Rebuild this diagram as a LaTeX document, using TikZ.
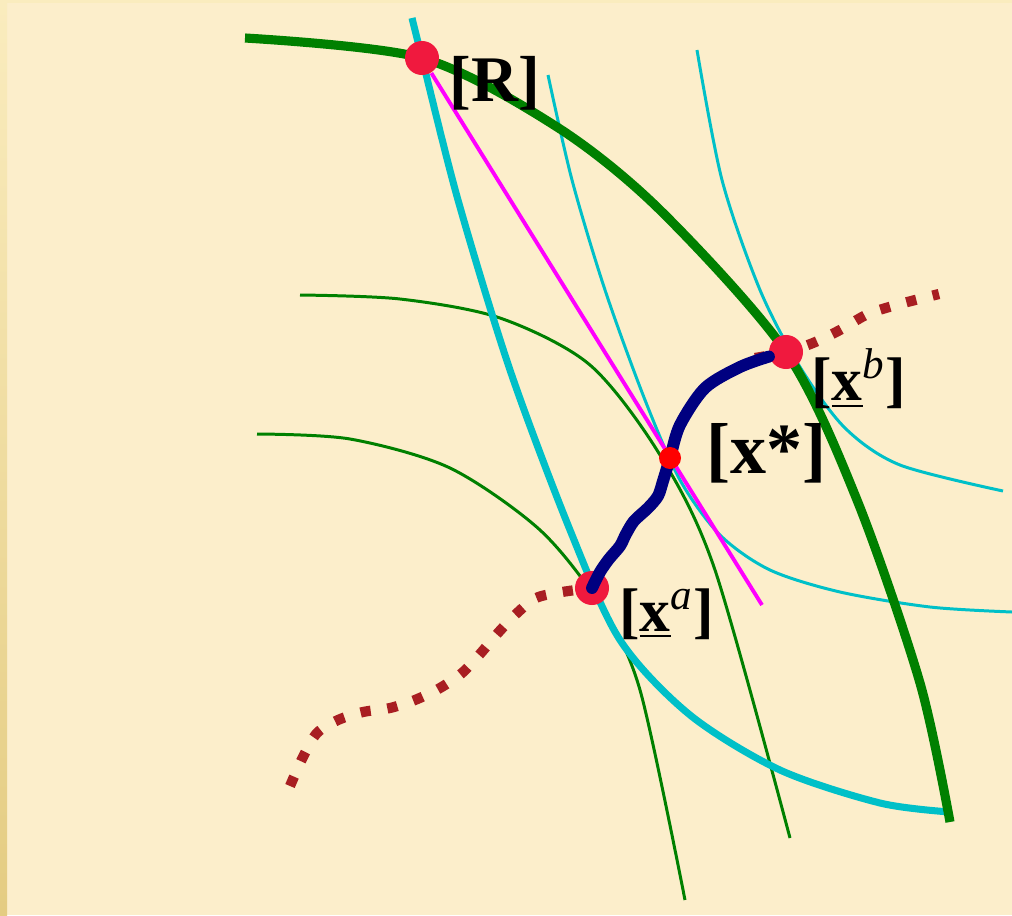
\documentclass[tikz,border=0pt]{standalone}
\usepackage{fontspec}
\setmainfont{Liberation Serif}
\usetikzlibrary{positioning}
\definecolor{paper}{RGB}{252,238,203}
\definecolor{stripLight}{RGB}{250,236,190}
\definecolor{stripDark}{RGB}{228,204,130}
\definecolor{leafgreen}{RGB}{0,128,0}
\definecolor{aqua}{RGB}{0,192,200}
\definecolor{rust}{RGB}{168,30,34}
\definecolor{dotred}{RGB}{240,25,62}
\definecolor{deepnavy}{RGB}{0,0,128}
\definecolor{pinkline}{RGB}{255,0,255}
\tikzset{
  thinGreen/.style={draw=leafgreen,line width=0.85pt},
  thinAqua/.style={draw=aqua,line width=0.85pt},
  bigDot/.style={circle,fill=dotred,inner sep=0pt,minimum size=0.34cm},
  lbl/.style={inner sep=0pt,font=\bfseries\fontsize{17.5}{20}\selectfont}
}
\begin{document}
\begin{tikzpicture}[x=0.01cm,y=-0.01cm]
    \useasboundingbox (0,0) rectangle (1012,915);
    \fill[paper] (0,0) rectangle (1012,915);
    \shade[top color=stripLight,bottom color=stripDark] (0,0) rectangle (7,915);
    \fill[stripLight] (7,0) rectangle (1012,3);
    % level curves
    \draw[thinGreen] plot[smooth] coordinates {(300,295) (400,299) (500,318) (590,365) (660,455) (715,570) (790,838)};
    \draw[thinGreen] plot[smooth] coordinates {(257,434) (350,439) (450,468) (540,530) (600,605) (640,690) (685,900)};
    \draw[thinAqua] plot[smooth] coordinates {(548,75) (572,180) (605,290) (645,400) (680,480) (720,535) (770,570) (840,592) (930,607) (1012,612)};
    \draw[thinAqua] plot[smooth] coordinates {(697,50) (722,180) (760,290) (800,367) (845,428) (900,465) (1003,491)};
    % boundaries
    \draw[aqua,line width=2pt] plot[smooth] coordinates {(412,18) (422,58) (458,200) (510,370) (570,530) (620,640) (690,715) (780,770) (880,803) (950,812)};
    \draw[leafgreen,line width=2.6pt] plot[smooth] coordinates {(245,38) (422,58) (557,127) (660,210) (786,352) (857,500) (920,683) (950,822)};
    % dotted paths
    \draw[rust,line width=2.9pt,dash pattern=on 2.9pt off 4.8pt] plot[smooth] coordinates {(290,786) (303,757) (317,733) (338,720) (363,712) (390,708) (415,700) (440,688) (462,673) (480,654) (497,634) (516,614) (536,598) (562,592) (592,588)};
    \draw[rust,line width=2.9pt,dash pattern=on 2.9pt off 4.8pt] plot[smooth] coordinates {(755,358) (786,352) (813,343) (840,330) (868,314) (900,304) (939,294)};
    % points
    \node[bigDot] (R) at (422,58) {};
    \node[bigDot] (xb) at (786,352) {};
    \node[bigDot] (xa) at (592,588) {};
    \coordinate (mEnd) at (762,605);
    \draw[pinkline,line width=1.1pt] (R) -- (mEnd);
    \coordinate (xs) at (670,458);
    \draw[deepnavy,line width=3.4pt,line cap=round] plot[smooth] coordinates {(xa.center) (600,572) (609,559) (620,546) (626,534) (634,521) (648,508) (658,496) (663,481) (xs) (680,425) (705,388) (740,367) (xb.195)};
    \node[circle,fill=red,inner sep=0pt,minimum size=0.22cm] (xstar) at (xs) {};
    % labels
    \node[lbl,font=\bfseries\fontsize{18.5}{22}\selectfont,right=0.09cm of R,yshift=-0.25cm] (Rlab) {[R]};
    \node[lbl,font=\bfseries\fontsize{20.5}{24}\selectfont,right=0.24cm of xstar,yshift=0.05cm] (xslab) {[x*]};
    \node[lbl,right=0.07cm of xb,yshift=-0.27cm] (xblab) {[\underline{x}\textsuperscript{\mdseries\itshape b}]};
    \node[lbl,right=0.09cm of xa,yshift=-0.26cm] (xalab) {[\underline{x}\textsuperscript{\mdseries\itshape a}]};
\end{tikzpicture}
\end{document}
